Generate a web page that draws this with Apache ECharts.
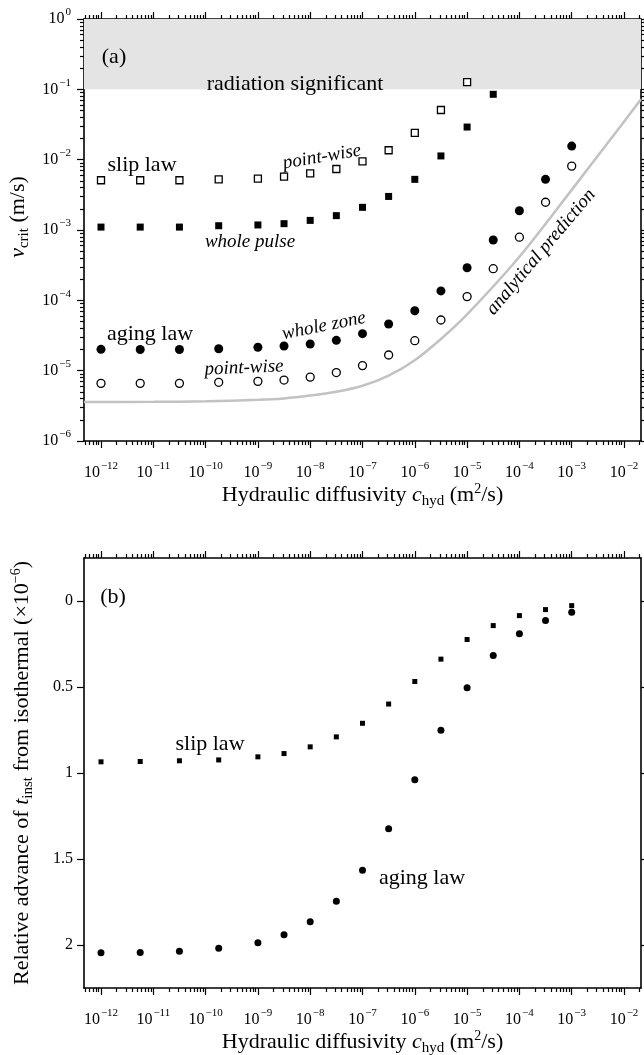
<!DOCTYPE html>
<html><head><meta charset="utf-8">
<script src="https://cdn.jsdelivr.net/npm/echarts@6/dist/echarts.min.js"></script>
<style>html,body{margin:0;padding:0;background:#fff}#c{width:644px;height:1055px}</style>
</head><body><div id="c"></div>
<script>
// ---------------- data ----------------
const cHyd = [1e-12, 5.62e-12, 3.16e-11, 1.78e-10, 1e-9, 3.16e-9, 1e-8, 3.16e-8, 1e-7, 3.16e-7, 1e-6, 3.16e-6, 1e-5, 3.16e-5, 1e-4, 3.16e-4, 1e-3];
// panel (a): critical velocity (m/s)
const slipPointWise  = [5.1e-3, 5.1e-3, 5.1e-3, 5.26e-3, 5.37e-3, 5.73e-3, 6.4e-3, 7.37e-3, 9.47e-3, 1.36e-2, 2.4e-2, 5.08e-2, 0.127];
const slipWholePulse = [1.1e-3, 1.1e-3, 1.1e-3, 1.15e-3, 1.18e-3, 1.23e-3, 1.37e-3, 1.6e-3, 2.1e-3, 3.0e-3, 5.25e-3, 1.13e-2, 2.91e-2, 8.5e-2];
const agingWholeZone = [2.01e-5, 2.0e-5, 2.0e-5, 2.05e-5, 2.15e-5, 2.24e-5, 2.39e-5, 2.7e-5, 3.36e-5, 4.6e-5, 7.1e-5, 1.36e-4, 2.91e-4, 7.2e-4, 1.88e-3, 5.25e-3, 1.56e-2];
const agingPointWise = [6.6e-6, 6.6e-6, 6.6e-6, 6.83e-6, 7.05e-6, 7.36e-6, 8.1e-6, 9.4e-6, 1.18e-5, 1.67e-5, 2.67e-5, 5.25e-5, 1.13e-4, 2.82e-4, 7.9e-4, 2.48e-3, 8.1e-3];
// analytical prediction curve
const predC = [4.73e-13, 1e-11, 1e-10, 1e-9, 3.16e-9, 1e-8, 3.16e-8, 1e-7, 3.16e-7, 1e-6, 3.16e-6, 1e-5, 1e-4, 1e-3, 1e-2, 2.11e-2];
const predV = [3.58e-6, 3.6e-6, 3.67e-6, 3.85e-6, 4.03e-6, 4.42e-6, 5.01e-6, 6.1e-6, 8.51e-6, 1.41e-5, 2.82e-5, 6.31e-5, 4.17e-4, 3.72e-3, 3.47e-2, 7.24e-2];
const radiationBand = [0.1, 1];
// panel (b): relative advance of t_inst (x1e-6)
const advSlip  = [0.935, 0.933, 0.929, 0.924, 0.906, 0.887, 0.848, 0.790, 0.711, 0.599, 0.468, 0.338, 0.224, 0.143, 0.085, 0.050, 0.027];
const advAging = [2.045, 2.043, 2.037, 2.019, 1.987, 1.940, 1.865, 1.745, 1.565, 1.324, 1.039, 0.752, 0.504, 0.317, 0.191, 0.114, 0.066];
// tick labels
const xExponents = [-12, -11, -10, -9, -8, -7, -6, -5, -4, -3, -2];
const yExponentsA = [-6, -5, -4, -3, -2, -1, 0];
const yTicksB = [0, 0.5, 1, 1.5, 2];

// ---------------- helpers ----------------
const FONT = "'Liberation Serif','Times New Roman',serif";
const XMIN = Math.pow(10, -12.325), XMAX = Math.pow(10, -1.675);
const xMajor = xExponents.map(e => Math.pow(10, e));
const yMajorA = yExponentsA.map(e => Math.pow(10, e));
function minorTicks(lo, hi, eLo, eHi) {
  const out = [];
  for (let e = eLo; e <= eHi; e++) for (let d = 2; d <= 9; d++) {
    const v = d * Math.pow(10, e);
    if (v > lo && v < hi) out.push(v);
  }
  return out;
}
const xMinor = minorTicks(XMIN, XMAX, -13, -2);
const yMinorA = minorTicks(1e-6, 1, -6, -1);
function expFmt(v) {
  const e = Math.round(Math.log10(v));
  return '{b|10}{e|' + (e < 0 ? '\u2212' + (-e) : e) + '}';
}
const expRich = {
  b: {fontSize: 16, fontFamily: FONT, color: '#000'},
  e: {fontSize: 11, fontFamily: FONT, color: '#000', padding: [0, 0, 13, 1]}
};
const lineStyle = {color: '#000', width: 1.6};
const tickStyle = {color: '#000', width: 1.2};
const titleRich = {
  n: {fontSize: 22, fontFamily: FONT, color: '#000'},
  i: {fontSize: 22, fontFamily: FONT, fontStyle: 'italic', color: '#000'},
  sub: {fontSize: 15, fontFamily: FONT, color: '#000', padding: [11, 0, 0, 0]},
  sup: {fontSize: 14, fontFamily: FONT, color: '#000', padding: [0, 0, 13, 0]}
};
const xName = '{n|Hydraulic diffusivity }{i|c}{sub|hyd}{n| (m}{sup|2}{n|/s)}';

function xAxesFor(grid) {
  const base = {type: 'log', logBase: 10, min: XMIN, max: XMAX, gridIndex: grid,
    splitLine: {show: false}, minorTick: {show: false}};
  return [
    Object.assign({}, base, {position: 'bottom',
      axisLine: {show: true, onZero: false, lineStyle},
      axisTick: {show: true, customValues: xMajor, length: 7, lineStyle: tickStyle},
      axisLabel: {show: true, customValues: xMajor, formatter: expFmt, rich: expRich, margin: 20},
      name: xName, nameLocation: 'middle', nameGap: 36, nameTextStyle: {rich: titleRich}}),
    Object.assign({}, base, {position: 'bottom', axisLine: {show: false, onZero: false},
      axisTick: {show: true, customValues: xMinor, length: 4, lineStyle: tickStyle}, axisLabel: {show: false}}),
    Object.assign({}, base, {position: 'top', axisLine: {show: true, onZero: false, lineStyle},
      axisTick: {show: true, customValues: xMajor, length: 7, lineStyle: tickStyle}, axisLabel: {show: false}}),
    Object.assign({}, base, {position: 'top', axisLine: {show: false, onZero: false},
      axisTick: {show: true, customValues: xMinor, length: 4, lineStyle: tickStyle}, axisLabel: {show: false}})
  ];
}

const yBaseA = {type: 'log', logBase: 10, min: 1e-6, max: 1, gridIndex: 0, splitLine: {show: false}, minorTick: {show: false}};
const yAxesA = [
  Object.assign({}, yBaseA, {position: 'left', axisLine: {show: true, onZero: false, lineStyle},
    axisTick: {show: true, customValues: yMajorA, length: 7, lineStyle: tickStyle},
    axisLabel: {show: true, customValues: yMajorA, formatter: expFmt, rich: expRich, margin: 13},
    name: '{i|v}{sub|crit}{n| (m/s)}', nameLocation: 'middle', nameGap: 46,
    nameTextStyle: {rich: titleRich, padding: [0, 0, 0, 26]}}),
  Object.assign({}, yBaseA, {position: 'left', axisLine: {show: false, onZero: false},
    axisTick: {show: true, customValues: yMinorA, length: 4, lineStyle: tickStyle}, axisLabel: {show: false}}),
  Object.assign({}, yBaseA, {position: 'right', axisLine: {show: true, onZero: false, lineStyle},
    axisTick: {show: true, customValues: yMajorA, length: 7, lineStyle: tickStyle}, axisLabel: {show: false}}),
  Object.assign({}, yBaseA, {position: 'right', axisLine: {show: false, onZero: false},
    axisTick: {show: true, customValues: yMinorA, length: 4, lineStyle: tickStyle}, axisLabel: {show: false}})
];
const yBaseB = {type: 'value', min: -0.25, max: 2.25, inverse: true, gridIndex: 1, splitLine: {show: false}};
const yAxesB = [
  Object.assign({}, yBaseB, {position: 'left', axisLine: {show: true, onZero: false, lineStyle},
    axisTick: {show: true, customValues: yTicksB, length: 7, lineStyle: tickStyle},
    axisLabel: {show: true, customValues: yTicksB, fontSize: 16, fontFamily: FONT, color: '#000', margin: 11},
    name: '{n|Relative advance of }{i|t}{sub|inst}{n| from isothermal (\u00d710}{sup|\u22126}{n|)}',
    nameLocation: 'middle', nameGap: 48, nameTextStyle: {rich: titleRich}}),
  Object.assign({}, yBaseB, {position: 'right', axisLine: {show: true, onZero: false, lineStyle},
    axisTick: {show: true, customValues: yTicksB, length: 7, lineStyle: tickStyle}, axisLabel: {show: false}})
];

const pairs = (xs, ys) => ys.map((y, i) => [xs[i], y]);
const openStyle = {color: '#fff', borderColor: '#000', borderWidth: 1.3, opacity: 1};
const fillStyle = {color: '#000', opacity: 1};

function txt(x, y, text, size, italic, rot) {
  return {type: 'text', x: x, y: y, rotation: rot || 0, z: 100,
    style: {text: text, fontSize: size, fontFamily: FONT, fontStyle: italic ? 'italic' : 'normal',
      fill: '#000', align: 'center', verticalAlign: 'middle'}};
}

const chart = echarts.init(document.getElementById('c'), null, {renderer: 'canvas'});
chart.setOption({
  backgroundColor: '#fff',
  animation: false,
  grid: [
    {left: 84, top: 19, width: 557, height: 422, containLabel: false, outerBoundsMode: 'none'},
    {left: 84, top: 558, width: 557, height: 430, containLabel: false, outerBoundsMode: 'none'}
  ],
  xAxis: xAxesFor(0).concat(xAxesFor(1)),
  yAxis: yAxesA.concat(yAxesB),
  series: [
    {type: 'line', name: 'analytical prediction', xAxisIndex: 0, yAxisIndex: 0, z: 2,
      data: pairs(predC, predV), showSymbol: false, smooth: 0.3,
      lineStyle: {color: '#c2c2c2', width: 2.5}, silent: true,
      markArea: {silent: true, itemStyle: {color: '#e4e4e4'},
        data: [[{yAxis: radiationBand[0]}, {yAxis: radiationBand[1]}]]}},
    {type: 'scatter', name: 'slip point-wise', xAxisIndex: 0, yAxisIndex: 0, z: 3,
      data: pairs(cHyd, slipPointWise), symbol: 'rect', symbolSize: 7, itemStyle: openStyle},
    {type: 'scatter', name: 'slip whole pulse', xAxisIndex: 0, yAxisIndex: 0, z: 3,
      data: pairs(cHyd, slipWholePulse), symbol: 'rect', symbolSize: 7, itemStyle: fillStyle},
    {type: 'scatter', name: 'aging whole zone', xAxisIndex: 0, yAxisIndex: 0, z: 3,
      data: pairs(cHyd, agingWholeZone), symbol: 'circle', symbolSize: 9, itemStyle: fillStyle},
    {type: 'scatter', name: 'aging point-wise', xAxisIndex: 0, yAxisIndex: 0, z: 3,
      data: pairs(cHyd, agingPointWise), symbol: 'circle', symbolSize: 8, itemStyle: openStyle},
    {type: 'scatter', name: 'slip law (b)', xAxisIndex: 4, yAxisIndex: 4, z: 3,
      data: pairs(cHyd, advSlip), symbol: 'rect', symbolSize: 5, itemStyle: fillStyle},
    {type: 'scatter', name: 'aging law (b)', xAxisIndex: 4, yAxisIndex: 4, z: 3,
      data: pairs(cHyd, advAging), symbol: 'circle', symbolSize: 7, itemStyle: fillStyle}
  ],
  graphic: [
    txt(114, 57, '(a)', 22),
    txt(295, 84, 'radiation significant', 22),
    txt(142, 165, 'slip law', 22),
    txt(322, 157, 'point-wise', 19, true, 0.17),
    txt(250, 242, 'whole pulse', 19, true),
    txt(150, 334, 'aging law', 22),
    txt(324, 326, 'whole zone', 19, true, 0.2),
    txt(244, 368, 'point-wise', 19, true, 0.04),
    txt(541, 252, 'analytical prediction', 19, true, 0.87),
    txt(113, 597, '(b)', 22),
    txt(210, 744, 'slip law', 22),
    txt(422, 878, 'aging law', 22)
  ]
});
</script>
</body></html>
